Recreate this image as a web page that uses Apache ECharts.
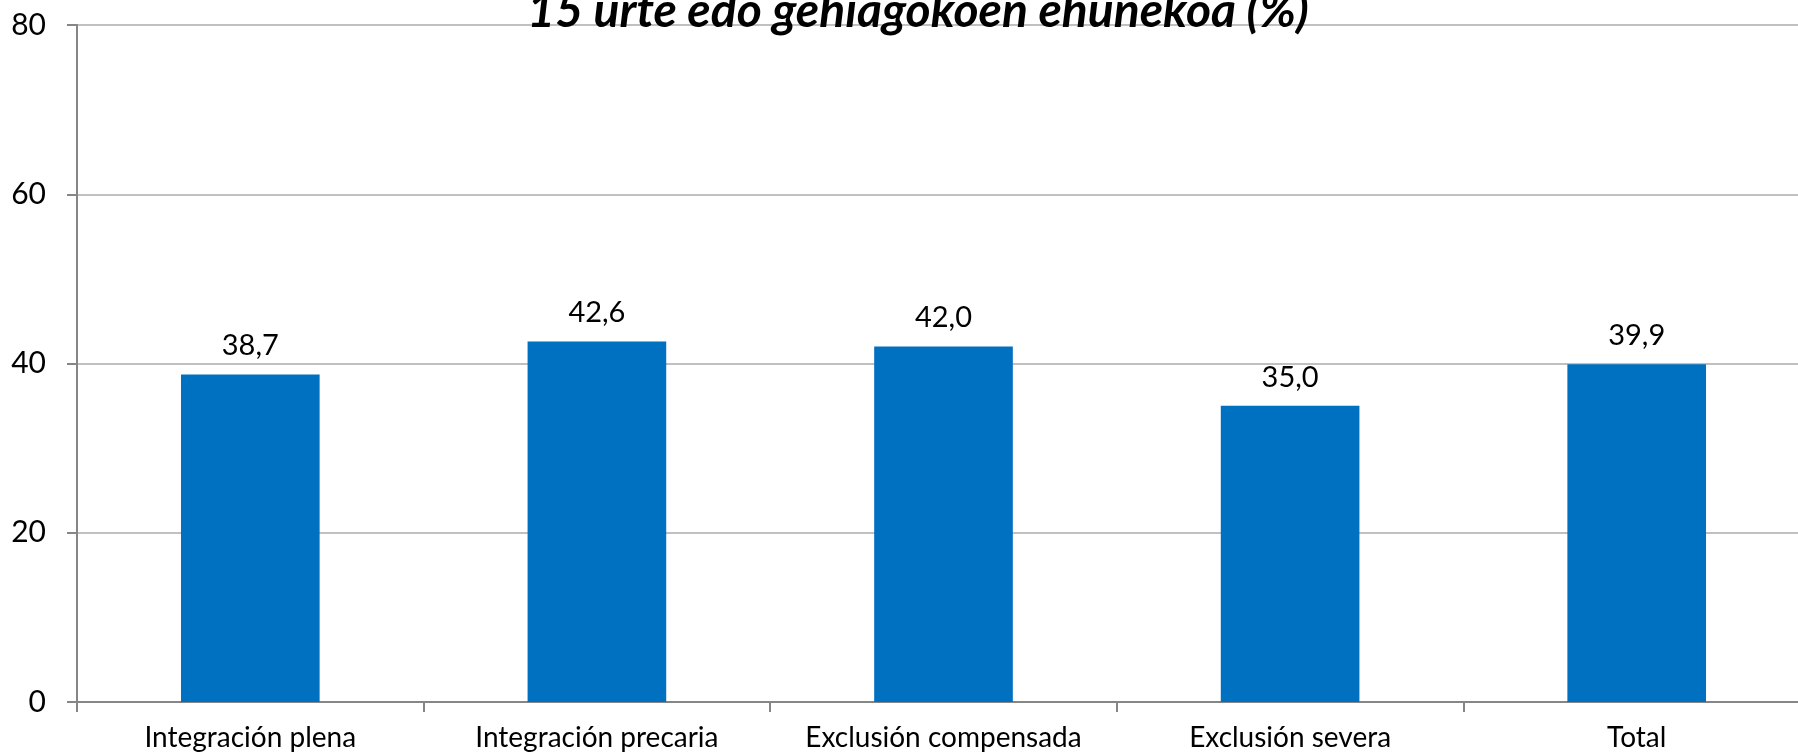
<!DOCTYPE html>
<html>
<head>
<meta charset="utf-8">
<script src="https://cdn.jsdelivr.net/npm/echarts@6/dist/echarts.min.js"></script>
<style>
  html, body { margin: 0; padding: 0; background: #ffffff; }
  #chart { width: 1798px; height: 752px; }
</style>
</head>
<body>
<div id="chart"></div>
<script>
// Share of people aged 15 and over, by social integration level (%)
const titleText = '15 urte edo gehiagokoen ehunekoa (%)';
const categories = ['Integración plena', 'Integración precaria', 'Exclusión compensada', 'Exclusión severa', 'Total'];
const values = [38.7, 42.6, 42.0, 35.0, 39.9];
const yTicks = [0, 20, 40, 60, 80];

const FONT = 'Lato, "Open Sans", sans-serif';
const chart = echarts.init(document.getElementById('chart'), null, { renderer: 'canvas' });

chart.setOption({
  animation: false,
  backgroundColor: '#ffffff',
  title: {
    text: titleText,
    left: 913,
    textAlign: 'center',
    top: -17,
    textStyle: {
      fontFamily: FONT,
      fontSize: 48,
      fontWeight: 'bold',
      fontStyle: 'italic',
      color: '#000000'
    }
  },
  // the plot runs slightly past the right edge of the canvas
  grid: { left: 77, right: -12, top: 25, bottom: 50, containLabel: false, outerBoundsMode: 'none' },
  xAxis: {
    type: 'category',
    data: categories,
    axisLine: { lineStyle: { color: '#868686', width: 2 } },
    axisTick: { show: true, length: 10, lineStyle: { color: '#868686', width: 2 } },
    axisLabel: { color: '#000000', fontFamily: FONT, fontSize: 28, margin: 22, interval: 0 }
  },
  yAxis: {
    type: 'value',
    min: yTicks[0],
    max: yTicks[yTicks.length - 1],
    interval: yTicks[1] - yTicks[0],
    axisLine: { show: true, lineStyle: { color: '#868686', width: 2 } },
    axisTick: { show: true, length: 10, lineStyle: { color: '#868686', width: 2 } },
    axisLabel: { color: '#000000', fontFamily: FONT, fontSize: 30, margin: 31 },
    splitLine: { lineStyle: { color: '#c0c0c0', width: 2 } }
  },
  series: [{
    type: 'bar',
    data: values,
    barWidth: '40%',
    itemStyle: { color: '#0070C0' },
    label: {
      show: true,
      position: 'top',
      distance: 14,
      color: '#000000',
      fontFamily: FONT,
      fontSize: 29,
      formatter: p => p.value.toFixed(1).replace('.', ',')
    }
  }]
});
</script>
</body>
</html>
